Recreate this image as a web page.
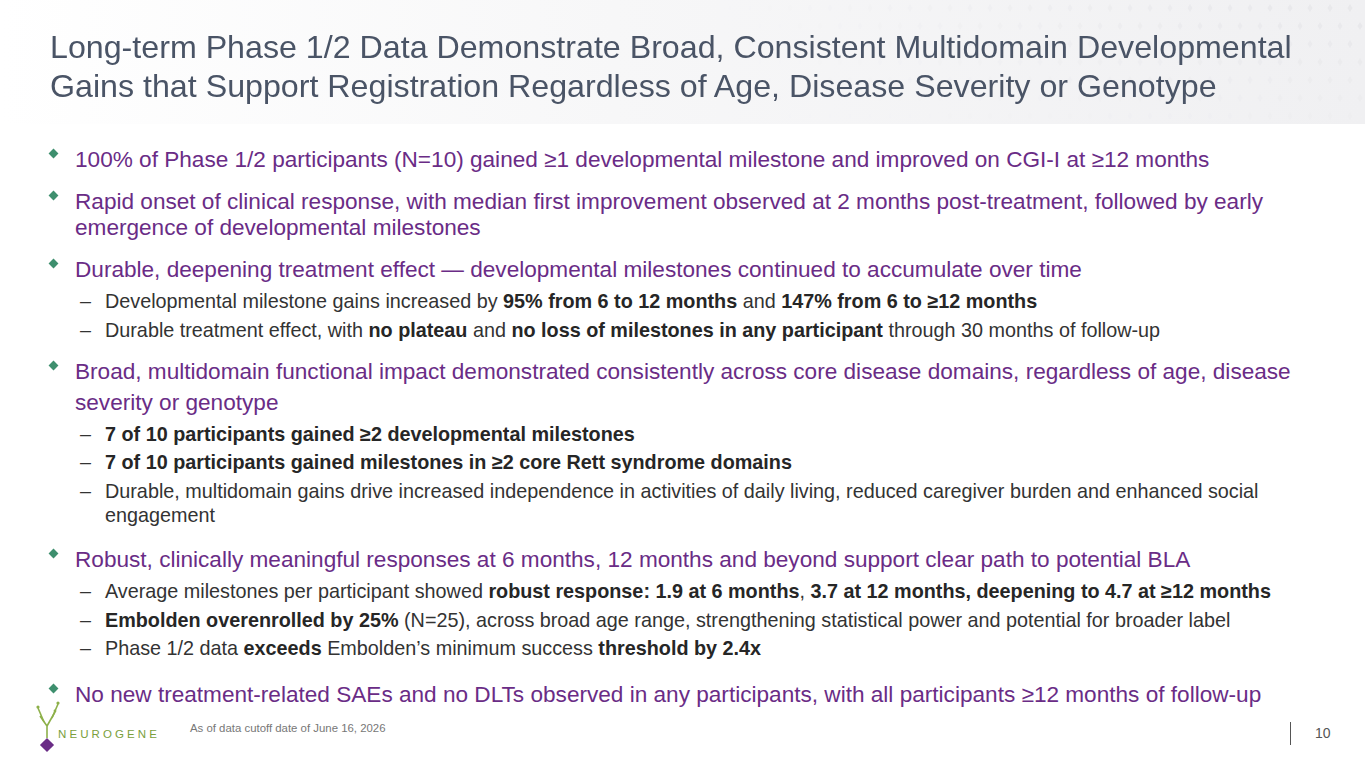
<!DOCTYPE html>
<html>
<head>
<meta charset="utf-8">
<script src="https://cdn.jsdelivr.net/npm/chart.js@4.4.0/dist/chart.umd.min.js"></script>
<style>
  html, body { margin: 0; padding: 0; }
  body { width: 1365px; height: 768px; position: relative; overflow: hidden; background: #fff;
         font-family: "Liberation Sans", Arial, sans-serif; }
  #header { position: absolute; left: 0; top: 0; width: 1365px; height: 124px;
            background: linear-gradient(90deg, #ffffff 0%, #f7f7f8 45%, #f0f0f2 100%); }
  #pattern { position: absolute; left: 700px; top: 0; }
  .title { position: absolute; left: 50px; font-size: 32.2px; color: #4a5466; line-height: 38px; white-space: nowrap; }
  .main { position: absolute; left: 75px; font-size: 22.6px; color: #6a2c86; line-height: 26px; white-space: nowrap; }
  .dia { position: absolute; left: 50px; width: 7px; height: 7px; background: #3e8f6e; transform: rotate(45deg); }
  .sub { position: absolute; left: 105px; font-size: 19.8px; color: #333; line-height: 22px; white-space: nowrap; }
  .dash { position: absolute; left: 80px; font-size: 19.8px; color: #333; line-height: 22px; }
  b { font-weight: bold; color: #262626; }
  #note { position: absolute; left: 190px; top: 722px; font-size: 11.4px; color: #777; }
  #page { position: absolute; left: 1315px; top: 725px; font-size: 14px; color: #555; }
  #bar { position: absolute; left: 1290px; top: 722px; width: 1px; height: 23px; background: #555; }
</style>
</head>
<body>
<div id="header"><canvas id="pattern" width="665" height="124"></canvas></div>
<div id="content"></div>
<svg style="position:absolute;left:30px;top:698px" width="150" height="60">
  <g stroke="#8db04a" stroke-width="1.6" fill="none">
    <path d="M17 40 L17 28 L10 18"/>
    <path d="M17 28 L25 14"/>
    <path d="M14 24 L8 10"/>
    <path d="M22 20 L28 6"/>
  </g>
  <circle cx="8" cy="9" r="1.6" fill="#8db04a"/>
  <circle cx="28" cy="5" r="1.6" fill="#8db04a"/>
  <circle cx="25" cy="13" r="1.4" fill="#8db04a"/>
  <rect x="12" y="42" width="10" height="10" fill="#6a2c86" transform="rotate(45 17 47)"/>
  <text x="28" y="40" font-family="Liberation Sans, Arial" font-size="11.5" fill="#7aa03c" letter-spacing="3.1">NEUROGENE</text>
</svg>
<div id="note">As of data cutoff date of June 16, 2026</div>
<div id="bar"></div>
<div id="page">10</div>
<script>
// Texte de la diapositive
const titreLignes = [
  "Long-term Phase 1/2 Data Demonstrate Broad, Consistent Multidomain Developmental",
  "Gains that Support Registration Regardless of Age, Disease Severity or Genotype"
];
const titreY = [47, 86];

// [type, y centre, texte]  type: m = puce principale, c = suite, s = sous-puce, sc = suite de sous-puce
const lignes = [
  ["m", 160, "100% of Phase 1/2 participants (N=10) gained \u22651 developmental milestone and improved on CGI-I at \u226512 months"],
  ["m", 202, "Rapid onset of clinical response, with median first improvement observed at 2 months post-treatment, followed by early"],
  ["c", 228, "emergence of developmental milestones"],
  ["m", 270, "Durable, deepening treatment effect \u2014 developmental milestones continued to accumulate over time"],
  ["s", 301, "Developmental milestone gains increased by <b>95% from 6 to 12 months</b> and <b>147% from 6 to \u226512 months</b>"],
  ["s", 330, "Durable treatment effect, with <b>no plateau</b> and <b>no loss of milestones in any participant</b> through 30 months of follow-up"],
  ["m", 372, "Broad, multidomain functional impact demonstrated consistently across core disease domains, regardless of age, disease"],
  ["c", 403, "severity or genotype"],
  ["s", 434, "<b>7 of 10 participants gained \u22652 developmental milestones</b>"],
  ["s", 462, "<b>7 of 10 participants gained milestones in \u22652 core Rett syndrome domains</b>"],
  ["s", 491, "Durable, multidomain gains drive increased independence in activities of daily living, reduced caregiver burden and enhanced social"],
  ["sc", 515, "engagement"],
  ["m", 560, "Robust, clinically meaningful responses at 6 months, 12 months and beyond support clear path to potential BLA"],
  ["s", 591, "Average milestones per participant showed <b>robust response: 1.9 at 6 months</b>, <b>3.7 at 12 months, deepening to 4.7 at \u226512 months</b>"],
  ["s", 620, "<b>Embolden overenrolled by 25%</b> (N=25), across broad age range, strengthening statistical power and potential for broader label"],
  ["s", 648, "Phase 1/2 data <b>exceeds</b> Embolden\u2019s minimum success <b>threshold by 2.4x</b>"],
  ["m", 695, "No new treatment-related SAEs and no DLTs observed in any participants, with all participants \u226512 months of follow-up"]
];

const header = document.getElementById("header");
titreLignes.forEach((t, i) => {
  const d = document.createElement("div");
  d.className = "title";
  d.style.top = (titreY[i] - 19) + "px";
  d.textContent = t;
  header.appendChild(d);
});

const contenu = document.getElementById("content");
lignes.forEach(([type, y, html]) => {
  const d = document.createElement("div");
  if (type === "m" || type === "c") {
    d.className = "main";
    d.style.top = (y - 13) + "px";
    if (type === "m") {
      const p = document.createElement("div");
      p.className = "dia";
      p.style.top = (y - 10) + "px";
      contenu.appendChild(p);
    }
  } else {
    d.className = "sub";
    d.style.top = (y - 11) + "px";
    if (type === "s") {
      const t = document.createElement("div");
      t.className = "dash";
      t.style.top = (y - 11) + "px";
      t.textContent = "\u2013";
      contenu.appendChild(t);
    }
  }
  d.innerHTML = html;
  contenu.appendChild(d);
});

// Motif de losanges clairs dans l'en-tête
const ctx = document.getElementById("pattern").getContext("2d");
for (let r = 0; r < 7; r++) {
  for (let c = 0; c < 34; c++) {
    const x = c * 20 + (r % 2) * 10 + 10;
    const y = r * 18 + 8;
    const a = Math.min(1, c / 34) * 0.07 * (1 - r / 8);
    ctx.fillStyle = "rgba(120,120,140," + a + ")";
    ctx.beginPath();
    ctx.moveTo(x, y - 4); ctx.lineTo(x + 2.5, y); ctx.lineTo(x, y + 4); ctx.lineTo(x - 2.5, y);
    ctx.fill();
  }
}
</script>
</body>
</html>
